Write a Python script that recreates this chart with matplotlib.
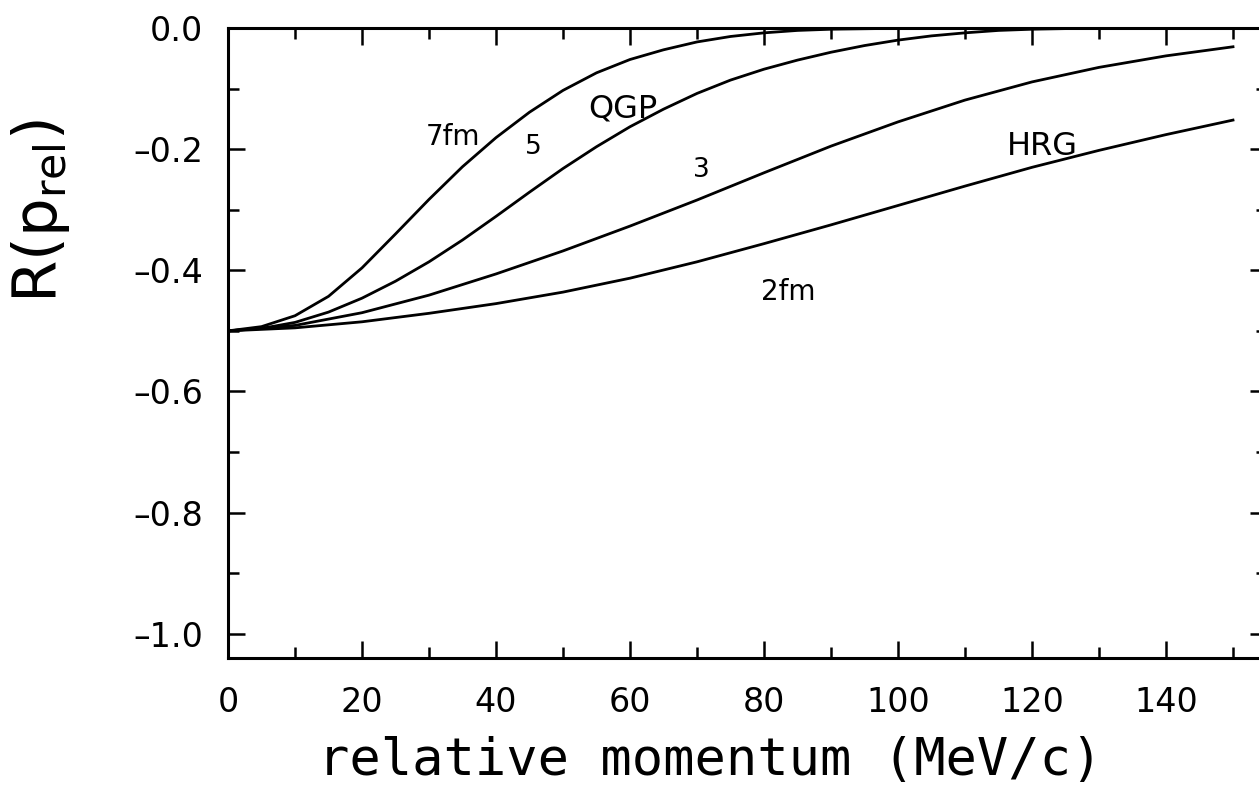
import matplotlib
matplotlib.use("Agg")
import matplotlib.pyplot as plt
from matplotlib.ticker import MultipleLocator

# Relative momentum (MeV/c) and correlation ratio R for each source radius
p_7fm = [0, 5, 10, 15, 20, 25, 30, 35, 40, 45, 50, 55, 60, 65, 70, 75, 80, 85, 90,
         100, 110, 120, 130, 140, 150]
r_7fm = [-0.500, -0.493, -0.475, -0.443, -0.396, -0.340, -0.283, -0.229, -0.181, -0.139,
         -0.103, -0.074, -0.052, -0.036, -0.023, -0.014, -0.008, -0.004, -0.002,
         -0.0005, 0.0, 0.0, 0.0, 0.0, 0.0]

p_5fm = [0, 5, 10, 15, 20, 25, 30, 35, 40, 45, 50, 55, 60, 65, 70, 75, 80, 85, 90, 95,
         100, 105, 110, 115, 120, 130, 140, 150]
r_5fm = [-0.500, -0.496, -0.486, -0.469, -0.446, -0.418, -0.386, -0.350, -0.311, -0.271,
         -0.232, -0.196, -0.163, -0.134, -0.108, -0.086, -0.068, -0.053, -0.040, -0.029,
         -0.020, -0.013, -0.008, -0.004, -0.002, 0.0, 0.0, 0.0]

p_3fm = [0, 10, 20, 30, 40, 50, 60, 70, 80, 90, 100, 110, 120, 130, 140, 150]
r_3fm = [-0.500, -0.491, -0.470, -0.441, -0.406, -0.368, -0.327, -0.284, -0.239, -0.195,
         -0.155, -0.119, -0.089, -0.065, -0.046, -0.031]

p_2fm = [0, 10, 20, 30, 40, 50, 60, 70, 80, 90, 100, 110, 120, 130, 140, 150]
r_2fm = [-0.500, -0.495, -0.485, -0.471, -0.455, -0.436, -0.413, -0.386, -0.356, -0.325,
         -0.293, -0.261, -0.230, -0.202, -0.176, -0.152]

# Curve annotations: text, x, y, font size
label_text = ["7fm", "5", "QGP", "3", "2fm", "HRG"]
label_x = [33.6, 45.5, 59.0, 70.6, 83.6, 121.5]
label_y = [-0.180, -0.197, -0.134, -0.235, -0.436, -0.195]
label_size = [20, 19, 23, 19, 20, 23]

x_ticks = [0, 20, 40, 60, 80, 100, 120, 140]
y_ticks = [0.0, -0.2, -0.4, -0.6, -0.8, -1.0]
y_tick_labels = ["0.0", "\u20130.2", "\u20130.4", "\u20130.6", "\u20130.8", "\u20131.0"]

plt.rcParams["mathtext.default"] = "regular"
plt.rcParams["font.family"] = ["DejaVu Sans"]

W, H = 1259, 786
fig = plt.figure(figsize=(W / 100, H / 100), dpi=100)
fig.patch.set_facecolor("white")

left_px, right_px, top_px, bottom_px = 228, 1266.5, 28, 658
ax = fig.add_axes([left_px / W, 1 - bottom_px / H,
                   (right_px - left_px) / W, (bottom_px - top_px) / H])

for p, r in [(p_7fm, r_7fm), (p_5fm, r_5fm), (p_3fm, r_3fm), (p_2fm, r_2fm)]:
    ax.plot(p, r, color="black", lw=2.0, solid_joinstyle="round")

for t, x, y, s in zip(label_text, label_x, label_y, label_size):
    ax.text(x, y, t, fontsize=s, ha="center", va="center", color="black")

ax.set_xlim(0, 155)
ax.set_ylim(-1.04, 0.0)

ax.set_xticks(x_ticks)
ax.set_xticklabels([str(v) for v in x_ticks])
ax.set_yticks(y_ticks)
ax.set_yticklabels(y_tick_labels)
ax.xaxis.set_minor_locator(MultipleLocator(10))
ax.yaxis.set_minor_locator(MultipleLocator(0.1))

ax.tick_params(which="both", direction="in", top=True, right=True,
               width=1.8, colors="black")
ax.tick_params(which="major", length=12)
ax.tick_params(which="minor", length=8)
ax.tick_params(axis="x", which="major", labelsize=24, pad=20)
ax.tick_params(axis="y", which="major", labelsize=24, pad=18)

for sp in ax.spines.values():
    sp.set_linewidth(2.2)
    sp.set_color("black")

fig.text(710 / W, 1 - 761 / H, "relative momentum (MeV/c)",
         family="DejaVu Sans Mono", fontsize=37.5, ha="center", va="center")
fig.text(40 / W, 1 - 211 / H, r"R(p$_{rel}$)", fontsize=44,
         rotation=90, ha="center", va="center")

fig.savefig("out.png", dpi=100, facecolor="white")
